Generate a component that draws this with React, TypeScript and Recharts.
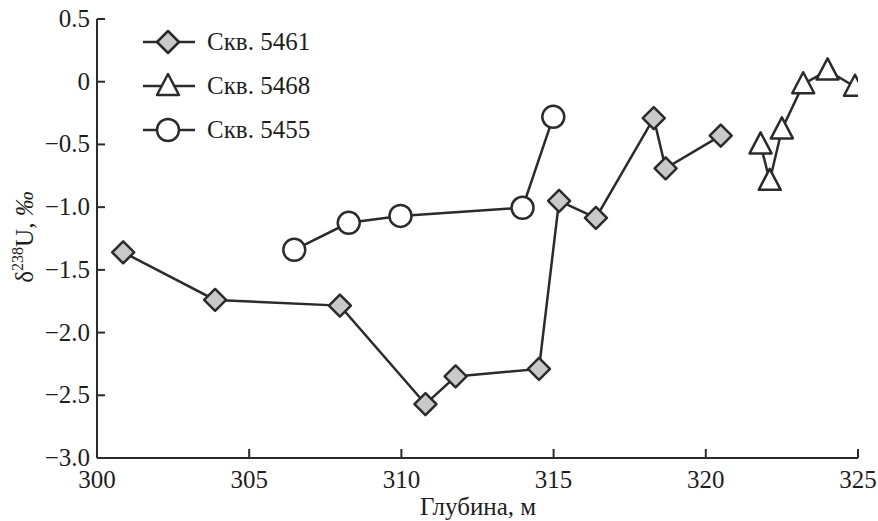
import { Line, LineChart, XAxis, YAxis } from 'recharts'

const well5461 = [
  { x: 300.86, y: -1.36 },
  { x: 303.88, y: -1.74 },
  { x: 307.98, y: -1.785 },
  { x: 310.79, y: -2.57 },
  { x: 311.78, y: -2.35 },
  { x: 314.52, y: -2.29 },
  { x: 315.18, y: -0.95 },
  { x: 316.39, y: -1.085 },
  { x: 318.29, y: -0.29 },
  { x: 318.68, y: -0.69 },
  { x: 320.49, y: -0.43 },
]

const well5468 = [
  { x: 321.8, y: -0.5 },
  { x: 322.1, y: -0.79 },
  { x: 322.5, y: -0.38 },
  { x: 323.2, y: -0.02 },
  { x: 324.0, y: 0.09 },
  { x: 324.9, y: -0.04 },
]

const well5455 = [
  { x: 306.48, y: -1.34 },
  { x: 308.27, y: -1.125 },
  { x: 309.97, y: -1.07 },
  { x: 313.98, y: -1.005 },
  { x: 314.99, y: -0.28 },
]

const xTicks = [300, 305, 310, 315, 320, 325]
const yTicks = [0.5, 0, -0.5, -1.0, -1.5, -2.0, -2.5, -3.0]
const seriesNames = ['Скв. 5461', 'Скв. 5468', 'Скв. 5455']

const INK = '#2b2b2b'
const TEXT = '#1e1e1e'
const txt = { fontFamily: "'Liberation Serif', 'Times New Roman', 'DejaVu Serif', serif", fontSize: 25, fill: TEXT }

function Diamond({ cx, cy }: { cx: number; cy: number }) {
  return (
    <polygon
      points={`${cx},${cy - 11} ${cx + 11},${cy} ${cx},${cy + 11} ${cx - 11},${cy}`}
      fill="#c9c9c9"
      stroke={INK}
      strokeWidth={2.5}
      strokeLinejoin="round"
    />
  )
}

function Triangle({ cx, cy }: { cx: number; cy: number }) {
  return (
    <polygon
      points={`${cx},${cy - 12} ${cx + 11},${cy + 9} ${cx - 11},${cy + 9}`}
      fill="#fff"
      stroke={INK}
      strokeWidth={2.5}
      strokeLinejoin="round"
    />
  )
}

function Circle({ cx, cy }: { cx: number; cy: number }) {
  return <circle cx={cx} cy={cy} r={11} fill="#fff" stroke={INK} strokeWidth={2.5} />
}

const markers = [Diamond, Triangle, Circle]

const fmtY = (v: number) => (v === 0 ? '0' : v.toFixed(1).replace('-', '\u2212'))

function XTick({ x, y, payload }: any) {
  return (
    <text x={x} y={y} dy={17} textAnchor="middle" style={txt}>
      {payload.value}
    </text>
  )
}

function YTick({ x, y, payload }: any) {
  return (
    <text x={x} y={y} dy={8} textAnchor="end" style={txt}>
      {fmtY(payload.value)}
    </text>
  )
}

function LegendBox() {
  return (
    <svg
      width={240}
      height={150}
      style={{ position: 'absolute', left: 140, top: 22, pointerEvents: 'none' }}
    >
      {seriesNames.map((name, i) => {
        const Mark = markers[i]
        const cy = 20 + i * 44
        return (
          <g key={name}>
            <line x1={3} x2={55} y1={cy} y2={cy} stroke={INK} strokeWidth={2.5} />
            <Mark cx={28} cy={cy} />
            <text x={67} y={cy + 8} style={txt}>
              {name}
            </text>
          </g>
        )
      })}
    </svg>
  )
}

function YLabel() {
  return (
    <text transform="translate(33,237) rotate(-90)" textAnchor="middle" style={txt}>
      <tspan>δ</tspan>
      <tspan style={{ fontSize: 16 }} dy={-10}>238</tspan>
      <tspan dy={10}>U, </tspan>
      <tspan style={{ fontStyle: 'italic' }}>‰</tspan>
    </text>
  )
}

function XLabel() {
  return (
    <text x={478} y={515} textAnchor="middle" style={txt}>
      Глубина, м
    </text>
  )
}

export default function App() {
  return (
    <div style={{ position: 'absolute', left: 0, top: 0, width: 878, height: 521, background: '#fff' }}>
      <LineChart width={878} height={521} margin={{ top: 19, right: 20, bottom: 0, left: 0 }}>
        <XAxis
          type="number"
          dataKey="x"
          domain={[300, 325]}
          ticks={xTicks}
          allowDataOverflow
          height={63}
          tickSize={-9}
          tickMargin={22}
          tick={<XTick />}
          axisLine={{ stroke: INK, strokeWidth: 2 }}
          tickLine={{ stroke: INK, strokeWidth: 2 }}
          label={<XLabel />}
        />
        <YAxis
          type="number"
          dataKey="y"
          domain={[-3, 0.5]}
          ticks={yTicks}
          allowDataOverflow
          width={97}
          tickSize={-8}
          tickMargin={15}
          tick={<YTick />}
          axisLine={{ stroke: INK, strokeWidth: 2 }}
          tickLine={{ stroke: INK, strokeWidth: 2 }}
          label={<YLabel />}
        />
        <Line
          data={well5461}
          dataKey="y"
          name={seriesNames[0]}
          stroke={INK}
          strokeWidth={2.5}
          isAnimationActive={false}
          dot={(p: any) => <Diamond key={p.index} cx={p.cx} cy={p.cy} />}
        />
        <Line
          data={well5468}
          dataKey="y"
          name={seriesNames[1]}
          stroke={INK}
          strokeWidth={2.5}
          isAnimationActive={false}
          dot={(p: any) => <Triangle key={p.index} cx={p.cx} cy={p.cy} />}
        />
        <Line
          data={well5455}
          dataKey="y"
          name={seriesNames[2]}
          stroke={INK}
          strokeWidth={2.5}
          isAnimationActive={false}
          dot={(p: any) => <Circle key={p.index} cx={p.cx} cy={p.cy} />}
        />
      </LineChart>
      <LegendBox />
    </div>
  )
}
